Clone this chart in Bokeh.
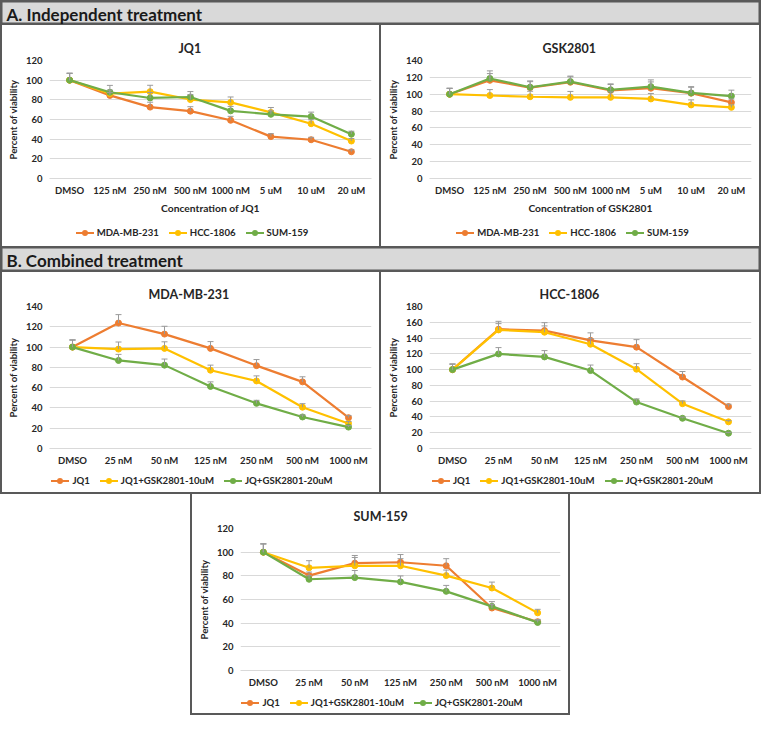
from bokeh.plotting import figure
from bokeh.models import ColumnDataSource, Whisker, TeeHead, FixedTicker, FactorRange, Range1d, Label, Spacer, Div
from bokeh.layouts import column, row
from bokeh.embed import file_html
from bokeh.resources import INLINE

FONT = "Lato"
ORANGE = "#ED7D31"
YELLOW = "#FFC000"
GREEN = "#70AD47"
COLORS = [ORANGE, YELLOW, GREEN]
BORDER = "#595959"
TXT = "#262626"

# ---------------- data ----------------
jq1_doses = ["DMSO", "125 nM", "250 nM", "500 nM", "1000 nM", "5 uM", "10 uM", "20 uM"]
comb_doses = ["DMSO", "25 nM", "50 nM", "125 nM", "250 nM", "500 nM", "1000 nM"]
cell_lines = ["MDA-MB-231", "HCC-1806", "SUM-159"]
combos = ["JQ1", "JQ1+GSK2801-10uM", "JQ+GSK2801-20uM"]

# A. JQ1 alone
jq1_mda = [100, 84.5, 72.6, 68.5, 59.2, 42.6, 39.4, 27.2]
jq1_hcc = [100, 86.4, 88.3, 80.3, 77.4, 67.2, 55.7, 38.1]
jq1_sum = [100, 87.7, 81.9, 82.9, 68.8, 65.3, 63.0, 45.1]
jq1_mda_err = [7, 3, 5, 4.5, 4, 3, 2.5, 2]
jq1_hcc_err = [7, 3.5, 6.5, 5, 5.5, 5, 4, 2.5]
jq1_sum_err = [7, 7, 5.5, 5.5, 4.5, 3.5, 4.5, 3]

# A. GSK2801 alone
gsk_mda = [100, 116.5, 107.9, 114.2, 104.5, 107.1, 101.2, 90.3]
gsk_hcc = [100, 98.5, 97.0, 96.3, 96.3, 94.4, 87.3, 84.4]
gsk_sum = [100, 118.7, 108.3, 115.0, 105.3, 109.0, 101.5, 97.8]
gsk_mda_err = [7, 8, 7, 6.5, 7, 7.5, 7, 4]
gsk_hcc_err = [7, 7, 6.5, 7, 6.5, 6.5, 6, 3]
gsk_sum_err = [7, 9, 7.5, 6.5, 7, 8, 7.5, 7]

# B. combined - MDA-MB-231
mda_jq1 = [100, 123.7, 112.8, 98.7, 81.7, 65.7, 30.4]
mda_c10 = [100, 98.0, 98.7, 77.2, 66.6, 40.7, 24.7]
mda_c20 = [100, 86.8, 82.2, 61.2, 44.5, 31.1, 21.1]
mda_jq1_err = [7, 8.3, 7.7, 6.7, 6, 5, 2]
mda_c10_err = [7, 7, 6.5, 5, 5, 3.5, 2]
mda_c20_err = [7, 6, 6, 4.5, 3, 2, 1.5]

# B. combined - HCC-1806
hcc_jq1 = [100, 151.2, 149.5, 137.1, 128.5, 90.6, 53.1]
hcc_c10 = [100, 150.3, 147.4, 132.2, 100.5, 56.8, 33.8]
hcc_c20 = [100, 119.9, 116.1, 98.8, 58.9, 38.3, 19.4]
hcc_jq1_err = [7, 10, 10, 9.5, 9.5, 7, 3]
hcc_c10_err = [7, 8, 8, 7, 7, 3.5, 1.5]
hcc_c20_err = [7, 8, 8, 7, 4, 1.5, 1]

# B. combined - SUM-159
sum_jq1 = [100, 80.2, 90.7, 91.5, 88.5, 52.8, 41.2]
sum_c10 = [100, 86.8, 88.5, 88.5, 80.2, 69.7, 48.7]
sum_c20 = [100, 77.1, 78.5, 74.9, 66.9, 54.2, 40.6]
sum_jq1_err = [7, 3, 6.5, 6.5, 6, 3, 2]
sum_c10_err = [7, 6, 7, 6, 4.7, 5, 3]
sum_c20_err = [7, 3, 6, 5, 5, 4, 2]


def edges(l, r, t, b):
    parts = []
    if l:
        parts.append("inset %dpx 0 0 0 %s" % (l, BORDER))
    if r:
        parts.append("inset -%dpx 0 0 0 %s" % (r, BORDER))
    if t:
        parts.append("inset 0 %dpx 0 0 %s" % (t, BORDER))
    if b:
        parts.append("inset 0 -%dpx 0 0 %s" % (b, BORDER))
    return {"background-color": "white", "box-shadow": ", ".join(parts)}


def legend_div(names, w, h, pad_top):
    items = []
    for name, col in zip(names, COLORS):
        items.append(
            '<span style="display:inline-flex;align-items:center;margin:0 5px;vertical-align:top">'
            '<span style="position:relative;display:inline-block;width:18px;height:2px;background:%s">'
            '<span style="position:absolute;left:6px;top:-2px;width:6px;height:6px;'
            'border-radius:50%%;background:%s"></span></span>'
            '<span style="margin-left:3px">%s</span></span>' % (col, col, name))
    html = ('<div style="box-sizing:border-box;width:%dpx;padding-top:%dpx;padding-left:4px;'
            'text-align:center;font-family:Lato;font-weight:bold;font-size:9.6px;line-height:12px;'
            'color:%s;white-space:nowrap">%s</div>') % (w, pad_top, TXT, "".join(items))
    return Div(text=html, width=w, height=h, margin=0)


def panel(title, title_off, cats, names, series, errors, ymax, xlabel, w, fig_h,
          left, right, top, bottom, leg_h, leg_pad, sides):
    p = figure(width=w, height=fig_h, x_range=FactorRange(*cats), y_range=Range1d(0, ymax),
               output_backend="svg", toolbar_location=None,
               min_border_left=left, min_border_right=right,
               min_border_top=top, min_border_bottom=bottom,
               background_fill_color="white", border_fill_alpha=0)
    p.outline_line_color = None
    p.title.text = title
    p.title.align = "left"
    p.title.offset = title_off
    p.title.text_font = FONT
    p.title.text_font_size = "12.5px"
    p.title.text_font_style = "bold"
    p.title.text_color = TXT

    p.xgrid.visible = False
    p.ygrid.grid_line_color = "#d9d9d9"
    p.ygrid.grid_line_width = 1
    p.yaxis.ticker = FixedTicker(ticks=list(range(0, ymax + 1, 20)))
    for ax in (p.xaxis[0], p.yaxis[0]):
        ax.major_tick_line_color = None
        ax.minor_tick_line_color = None
        ax.major_label_text_font = FONT
        ax.major_label_text_font_size = "9.5px"
        ax.major_label_text_font_style = "bold"
        ax.major_label_text_color = TXT
        ax.axis_label_text_font = FONT
        ax.axis_label_text_font_style = "bold"
        ax.axis_label_text_color = TXT
        ax.major_tick_out = 0
        ax.major_tick_in = 0
    p.yaxis.axis_line_color = None
    p.xaxis.axis_line_color = "#d9d9d9"
    p.xaxis.major_label_standoff = 6
    p.yaxis.major_label_standoff = 7
    p.yaxis.axis_label = "Percent of viability"
    p.yaxis.axis_label_text_font_size = "9.6px"
    p.yaxis.axis_label_standoff = 4
    if xlabel:
        p.xaxis.axis_label = xlabel
        p.xaxis.axis_label_text_font_size = "10.3px"
        p.xaxis.axis_label_standoff = 3

    for vals, errs, col in zip(series, errors, COLORS):
        p.line(cats, vals, line_color=col, line_width=2.2)
        p.scatter(cats, vals, size=6, fill_color=col, line_color=col)
        upper = [v + e for v, e in zip(vals, errs)]
        src = ColumnDataSource(dict(x=cats, lower=vals, upper=upper))
        wk = Whisker(base="x", lower="lower", upper="upper", source=src,
                     line_color="#9a9a9a", line_width=1, lower_head=None,
                     upper_head=TeeHead(size=6, line_color="#9a9a9a", line_width=1),
                     level="overlay")
        p.add_layout(wk)

    leg = legend_div(names, w, leg_h, leg_pad)
    return column(p, leg, styles=edges(*sides))


def header(text, w, h):
    p = figure(width=w, height=h, min_border=0, toolbar_location=None, output_backend="svg",
               x_axis_type=None, y_axis_type=None, x_range=Range1d(0, 1), y_range=Range1d(0, 1))
    p.background_fill_color = "#d9d9d9"
    p.border_fill_color = "#d9d9d9"
    p.outline_line_color = BORDER
    p.outline_line_width = 4
    p.add_layout(Label(x=6, y=h / 2 - 1, x_units="screen", y_units="screen", text=text,
                       text_font=FONT, text_font_style="bold", text_font_size="17px",
                       text_color="#1a1a1a", text_baseline="middle"))
    return p


W = 761

pA1 = panel("JQ1", 129, jq1_doses, cell_lines, [jq1_mda, jq1_hcc, jq1_sum],
            [jq1_mda_err, jq1_hcc_err, jq1_sum_err], 120, "Concentration of JQ1",
            380, 191, 49, 9, 35, 34, 30, 11, (2, 1, 0, 0))
pA2 = panel("GSK2801", 113, jq1_doses, cell_lines, [gsk_mda, gsk_hcc, gsk_sum],
            [gsk_mda_err, gsk_hcc_err, gsk_sum_err], 140, "Concentration of GSK2801",
            381, 191, 49, 10, 35, 34, 30, 11, (1, 2, 0, 0))
pB1 = panel("MDA-MB-231", 99, comb_doses, combos, [mda_jq1, mda_c10, mda_c20],
            [mda_jq1_err, mda_c10_err, mda_c20_err], 140, None,
            380, 196, 49, 9, 34, 20, 26, 7, (2, 1, 0, 2))
pB2 = panel("HCC-1806", 110, comb_doses, combos, [hcc_jq1, hcc_c10, hcc_c20],
            [hcc_jq1_err, hcc_c10_err, hcc_c20_err], 180, None,
            381, 196, 49, 10, 34, 20, 26, 7, (1, 2, 0, 2))
pB3 = panel("SUM-159", 113, comb_doses, combos, [sum_jq1, sum_c10, sum_c20],
            [sum_jq1_err, sum_c10_err, sum_c20_err], 120, None,
            380, 196, 50, 10, 34, 20, 25, 7, (2, 2, 0, 2))

layout = column(
    header("A. Independent treatment", W, 25),
    row(pA1, pA2),
    header("B. Combined treatment", W, 26),
    row(pB1, pB2),
    row(Spacer(width=190, height=221), pB3),
)

with open("out.html", "w") as f:
    f.write(file_html(layout, INLINE, title="Viability"))
